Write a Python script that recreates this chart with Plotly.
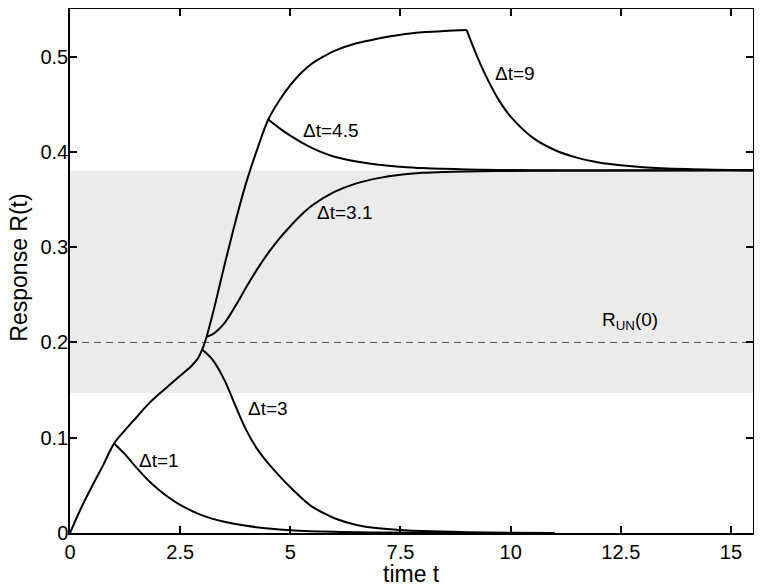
import plotly.graph_objects as go

# stimulus on: common rising curve (0 .. 9)
t_on = [0, 0.25, 0.5, 0.75, 1.0, 1.25, 1.5, 1.75, 2.0, 2.25, 2.5, 2.75, 2.9, 3.0,
        3.1, 3.25, 3.5, 3.75, 4.0, 4.25, 4.5, 4.75, 5.0, 5.25, 5.5, 5.75, 6.0,
        6.5, 7.0, 7.5, 8.0, 8.5, 9.0]
r_on = [0, 0.026, 0.049, 0.071, 0.094, 0.108, 0.121, 0.134, 0.145, 0.155, 0.165,
        0.175, 0.183, 0.1925, 0.206, 0.232, 0.280, 0.326, 0.368, 0.403, 0.434,
        0.454, 0.470, 0.483, 0.493, 0.500, 0.506, 0.514, 0.519, 0.523, 0.5255,
        0.527, 0.528]

# stimulus off after dt
t_dt1 = [1.0, 1.25, 1.5, 1.75, 2.0, 2.25, 2.5, 3.0, 3.5, 4.0, 4.5, 5.0, 6.0, 7.0,
         8.0, 9.0, 10.0]
r_dt1 = [0.094, 0.0825, 0.069, 0.0565, 0.046, 0.037, 0.0295, 0.0185, 0.0118, 0.0075,
         0.0048, 0.003, 0.0012, 0.0005, 0.0002, 0.0001, 0]

t_dt3 = [3.0, 3.25, 3.5, 3.75, 4.0, 4.25, 4.5, 4.75, 5.0, 5.25, 5.5, 5.75, 6.0, 6.5,
         7.0, 7.5, 8.0, 9.0, 10.0, 11.0]
r_dt3 = [0.1925, 0.181, 0.161, 0.134, 0.108, 0.088, 0.073, 0.060, 0.048, 0.037,
         0.0275, 0.021, 0.0155, 0.0085, 0.005, 0.0032, 0.002, 0.0008, 0.0002, 0]

t_dt31 = [3.1, 3.25, 3.5, 3.75, 4.0, 4.25, 4.5, 4.75, 5.0, 5.25, 5.5, 6.0, 6.5, 7.0,
          7.5, 8.0, 8.5, 9.0, 10.0, 11.0, 12.0, 13.5, 15.5]
r_dt31 = [0.206, 0.209, 0.220, 0.238, 0.258, 0.277, 0.294, 0.309, 0.322, 0.334,
          0.344, 0.358, 0.367, 0.3725, 0.376, 0.378, 0.379, 0.3795, 0.380, 0.3803,
          0.3805, 0.3807, 0.381]

t_dt45 = [4.5, 4.75, 5.0, 5.25, 5.5, 5.75, 6.0, 6.5, 7.0, 7.5, 8.0, 9.0, 10.0, 11.0,
          12.0, 13.5, 15.5]
r_dt45 = [0.434, 0.425, 0.417, 0.410, 0.404, 0.399, 0.395, 0.390, 0.3865, 0.3845,
          0.383, 0.3815, 0.381, 0.3807, 0.3805, 0.3805, 0.3805]

t_dt9 = [9.0, 9.25, 9.5, 9.75, 10.0, 10.5, 11.0, 11.5, 12.0, 12.5, 13.0, 14.0, 15.5]
r_dt9 = [0.528, 0.499, 0.474, 0.453, 0.437, 0.415, 0.402, 0.394, 0.389, 0.386,
         0.384, 0.382, 0.3805]

band_low, band_high = 0.147, 0.38
r_un0 = 0.2

x_ticks = [0, 2.5, 5, 7.5, 10, 12.5, 15]
x_ticktext = ['0', '2.5', '5', '7.5', '10', '12.5', '15']
y_ticks = [0, 0.1, 0.2, 0.3, 0.4, 0.5]
y_ticktext = ['0', '0.1', '0.2', '0.3', '0.4', '0.5']

labels = [
    (1.52, 0.0756, 'Δt=1'),
    (4.0, 0.131, 'Δt=3'),
    (5.56, 0.336, 'Δt=3.1'),
    (5.25, 0.4225, 'Δt=4.5'),
    (9.59, 0.482, 'Δt=9'),
    (12.02, 0.2225, 'R<sub>UN</sub>(0)'),
]

FONT = 'Liberation Sans, Arial, sans-serif'

fig = go.Figure()
for tt, rr in [(t_on, r_on), (t_dt1, r_dt1), (t_dt3, r_dt3),
               (t_dt31, r_dt31), (t_dt45, r_dt45), (t_dt9, r_dt9)]:
    fig.add_trace(go.Scatter(x=tt, y=rr, mode='lines',
                             line=dict(color='black', width=2, shape='spline', smoothing=1),
                             showlegend=False, hoverinfo='skip'))

fig.add_shape(type='rect', xref='x', yref='y', x0=0, x1=15.5, y0=band_low, y1=band_high,
              fillcolor='#ebebeb', line=dict(width=0), layer='below')
fig.add_shape(type='line', xref='x', yref='y', x0=0, x1=15.5, y0=r_un0, y1=r_un0,
              line=dict(color='#555555', width=1, dash='7px,5px'), layer='below')

for x, y, txt in labels:
    fig.add_annotation(x=x, y=y, text=txt, showarrow=False, xanchor='left', yanchor='middle',
                       font=dict(family=FONT, size=19, color='black'))

# axis titles placed by hand so the frame stays where the reference has it
fig.add_annotation(x=0.5, y=-0.079, xref='paper', yref='paper', text='time t',
                   showarrow=False, xanchor='center', yanchor='middle',
                   font=dict(family=FONT, size=23, color='black'))
fig.add_annotation(x=-0.075, y=0.506, xref='paper', yref='paper', text='Response R(t)',
                   showarrow=False, textangle=-90, xanchor='center', yanchor='middle',
                   font=dict(family=FONT, size=23, color='black'))

axis_style = dict(showline=True, linecolor='black', linewidth=1.5, mirror='ticks',
                  ticks='inside', ticklen=7, tickwidth=1.5, tickcolor='black',
                  showgrid=False, zeroline=False, automargin=False,
                  tickfont=dict(family=FONT, size=20, color='black'))

# the page body adds an 8px offset, so the figure is 8px smaller than the window
fig.update_layout(
    width=754, height=580,
    margin=dict(l=62, r=9, t=1, b=55),
    plot_bgcolor='white', paper_bgcolor='white',
    xaxis=dict(range=[0, 15.5], tickvals=x_ticks, ticktext=x_ticktext, **axis_style),
    yaxis=dict(range=[0, 0.55], tickvals=y_ticks, ticktext=y_ticktext,
               ticklabelstandoff=-4, **axis_style),
)

fig.write_html("out.html")
